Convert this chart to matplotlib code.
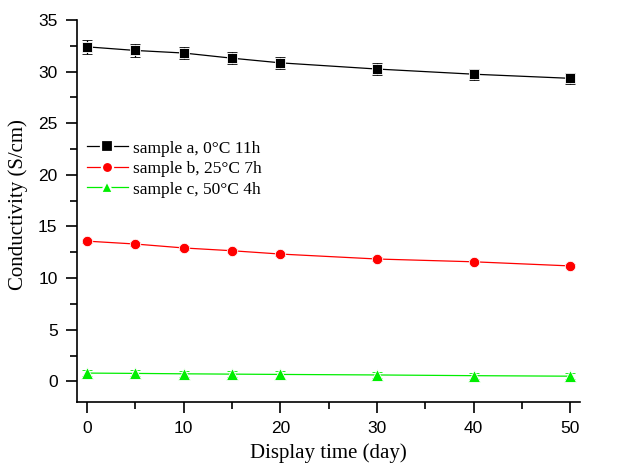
import matplotlib
matplotlib.use("Agg")
import matplotlib.pyplot as plt
from matplotlib.ticker import MultipleLocator

plt.rcParams["font.family"] = ["Liberation Sans", "DejaVu Sans"]

days = [0, 5, 10, 15, 20, 30, 40, 50]

sample_a = [32.4, 32.05, 31.8, 31.3, 30.85, 30.25, 29.75, 29.35]
sample_a_err = [0.65, 0.65, 0.6, 0.6, 0.6, 0.55, 0.55, 0.55]

sample_b = [13.58, 13.3, 12.92, 12.65, 12.33, 11.85, 11.58, 11.18]
sample_b_err = [0.15, 0.15, 0.15, 0.15, 0.15, 0.15, 0.15, 0.15]

sample_c = [0.8, 0.77, 0.73, 0.7, 0.67, 0.62, 0.55, 0.5]
sample_c_err = [0.3, 0.3, 0.3, 0.3, 0.3, 0.3, 0.3, 0.3]

labels = ["sample a, 0°C 11h", "sample b, 25°C 7h", "sample c, 50°C 4h"]

fig = plt.figure(figsize=(6.2, 4.65), dpi=100)
ax = fig.add_axes([77 / 620, 63 / 465, 503 / 620, 382 / 465])

series = [
    (sample_a, sample_a_err, "black", "s", 7, labels[0]),
    (sample_b, sample_b_err, "red", "o", 7.5, labels[1]),
    (sample_c, sample_c_err, "#00ee00", "^", 8, labels[2]),
]
for vals, err, col, mk, ms, lab in series:
    ax.errorbar(days, vals, yerr=err, color=col, marker=mk, markersize=ms,
                markeredgecolor="white", markeredgewidth=0.6, lw=0.9,
                elinewidth=0.9, capsize=3.5, capthick=0.9, label=lab)

ax.set_xlim(-1.05, 51)
ax.set_ylim(-2, 35)
ax.xaxis.set_major_locator(MultipleLocator(10))
ax.xaxis.set_minor_locator(MultipleLocator(5))
ax.yaxis.set_major_locator(MultipleLocator(5))
ax.yaxis.set_minor_locator(MultipleLocator(2.5))

for side in ["top", "right"]:
    ax.spines[side].set_visible(False)
for side in ["left", "bottom"]:
    ax.spines[side].set_linewidth(1.2)

ax.tick_params(which="major", direction="out", length=8, width=1.2,
               labelsize=12.5, pad=6)
ax.tick_params(which="minor", direction="out", length=5, width=1.2)

ax.set_xlabel("Display time (day)", family="Liberation Serif", fontsize=15, labelpad=5)
ax.set_ylabel("Conductivity (S/cm)", family="Liberation Serif", fontsize=15)
ax.yaxis.set_label_coords(-0.097, 0.516)

handles, labs = ax.get_legend_handles_labels()
handles = [h[0] for h in handles]
leg = ax.legend(handles, labs, loc="center left", bbox_to_anchor=(0.0, 0.61),
                frameon=False, prop={"family": "Liberation Serif", "size": 12.5},
                handlelength=2.4, handletextpad=0.25, labelspacing=0.25,
                borderpad=0, borderaxespad=0.55)
for h in leg.legend_handles:
    h.set_markersize(8)
    h.set_markeredgewidth(1.6)

fig.savefig("out.png", dpi=100)
